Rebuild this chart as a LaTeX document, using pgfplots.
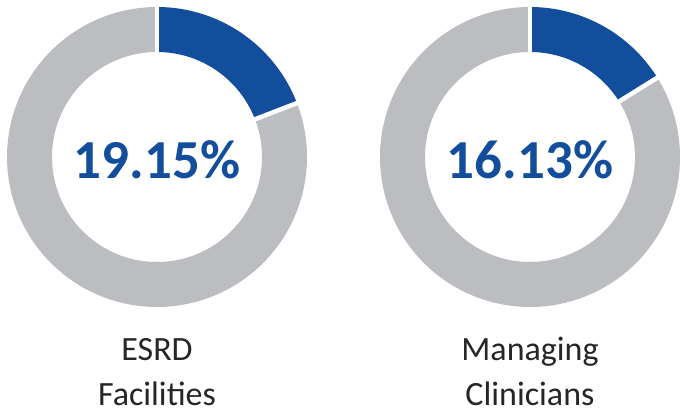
\documentclass[border=0pt]{standalone}
\usepackage{pgfplots}
\pgfplotsset{compat=1.18}
\usepackage{fontspec}
\setmainfont{Carlito}
\definecolor{donutblue}{HTML}{124E9B}
\definecolor{donutgray}{HTML}{BCBDC0}
\definecolor{labeltext}{HTML}{262626}
% chart values (percent)
\def\valA{19.15}
\def\valB{16.13}
\def\cxA{157}\def\cxB{530}\def\cy{256}
\def\rmid{127.5}\def\rin{105}\def\rout{150}
\begin{document}
\begin{tikzpicture}
\begin{axis}[
  width=680pt, height=413pt, scale only axis,
  xmin=0, xmax=680, ymin=0, ymax=413,
  axis lines=none, clip=false,
]
% --- left donut
\addplot[donutgray, line width=45pt, domain={90-360}:{90-3.6*\valA}, samples=200, variable=\t]
  ({\cxA+\rmid*cos(\t)},{\cy+\rmid*sin(\t)});
\addplot[donutblue, line width=45pt, domain={90-3.6*\valA}:90, samples=80, variable=\t]
  ({\cxA+\rmid*cos(\t)},{\cy+\rmid*sin(\t)});
\addplot[white, line width=4.5pt, domain=100:152, samples=2, variable=\r]
  ({\cxA+\r*cos(90)},{\cy+\r*sin(90)});
\addplot[white, line width=4.5pt, domain=100:152, samples=2, variable=\r]
  ({\cxA+\r*cos(90-3.6*\valA)},{\cy+\r*sin(90-3.6*\valA)});
% --- right donut
\addplot[donutgray, line width=45pt, domain={90-360}:{90-3.6*\valB}, samples=200, variable=\t]
  ({\cxB+\rmid*cos(\t)},{\cy+\rmid*sin(\t)});
\addplot[donutblue, line width=45pt, domain={90-3.6*\valB}:90, samples=80, variable=\t]
  ({\cxB+\rmid*cos(\t)},{\cy+\rmid*sin(\t)});
\addplot[white, line width=4.5pt, domain=100:152, samples=2, variable=\r]
  ({\cxB+\r*cos(90)},{\cy+\r*sin(90)});
\addplot[white, line width=4.5pt, domain=100:152, samples=2, variable=\r]
  ({\cxB+\r*cos(90-3.6*\valB)},{\cy+\r*sin(90-3.6*\valB)});
% --- texts
\node[text=donutblue, font=\fontsize{55}{60}\selectfont\bfseries, anchor=center]
  at (axis cs:\cxA,253) {19.15\%};
\node[text=donutblue, font=\fontsize{55}{60}\selectfont\bfseries, anchor=center]
  at (axis cs:\cxB,253) {16.13\%};
\node[text=labeltext, font=\fontsize{34}{46}\selectfont, anchor=base, inner sep=0pt] at (axis cs:\cxA,53) {ESRD};
\node[text=labeltext, font=\fontsize{34}{46}\selectfont, anchor=base, inner sep=0pt] at (axis cs:\cxA,8) {Facilities};
\node[text=labeltext, font=\fontsize{34}{46}\selectfont, anchor=base, inner sep=0pt] at (axis cs:\cxB,53) {Managing};
\node[text=labeltext, font=\fontsize{34}{46}\selectfont, anchor=base, inner sep=0pt] at (axis cs:\cxB,8) {Clinicians};
\end{axis}
\useasboundingbox (0,0) rectangle (680pt,413pt);
\end{tikzpicture}
\end{document}
